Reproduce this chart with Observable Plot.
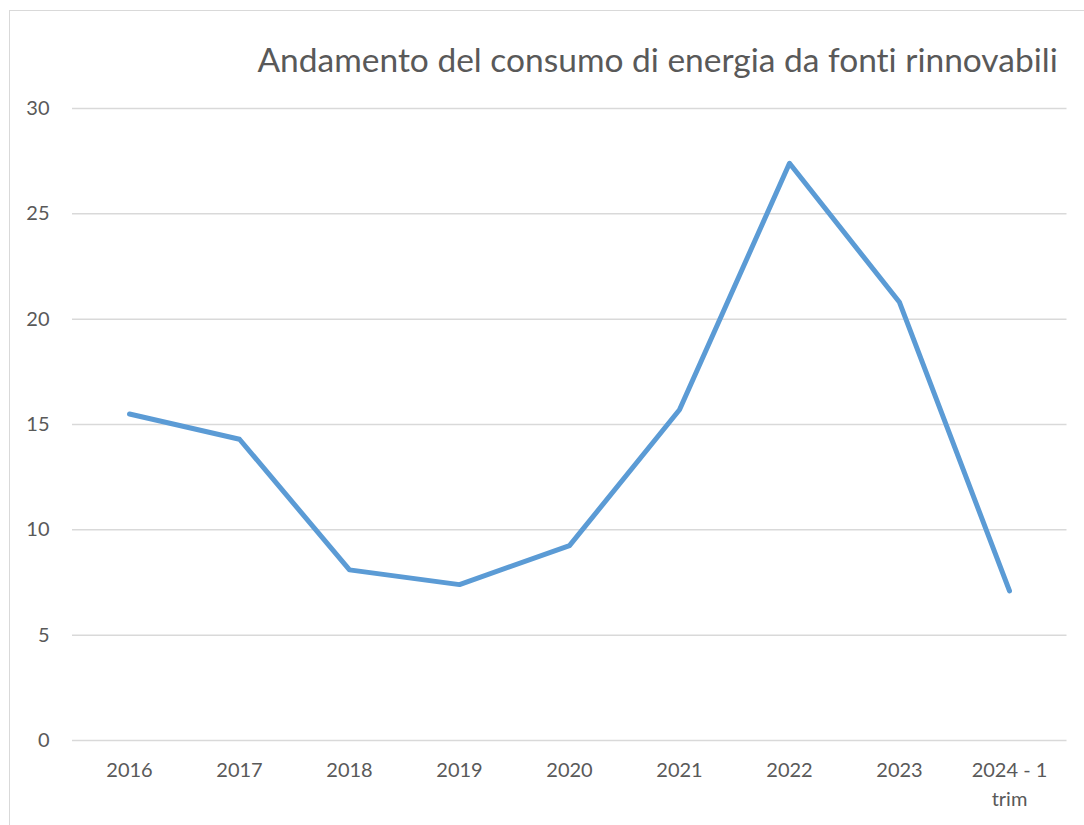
<!DOCTYPE html>
<html>
<head>
<meta charset="utf-8">
<script src="https://cdn.jsdelivr.net/npm/d3@7"></script>
<script src="https://cdn.jsdelivr.net/npm/@observablehq/plot@0.6"></script>
<style>
  html, body { margin: 0; padding: 0; background: #fff; overflow: hidden; }
  #wrap { position: relative; width: 1084px; height: 825px; overflow: hidden; }
  #border { position: absolute; left: 9px; top: 10px; width: 1200px; height: 900px;
            border-left: 1.5px solid #d9d9d9; border-top: 1.5px solid #d9d9d9; }
  #chart { position: absolute; left: 0; top: 0; }
  #chart svg text { font-variant-ligatures: none; font-feature-settings: "liga" 0; }
</style>
</head>
<body>
<div id="wrap"><div id="border"></div><div id="chart"></div></div>
<script>
const title = "Andamento del consumo di energia da fonti rinnovabili";
const categories = ["2016", "2017", "2018", "2019", "2020", "2021", "2022", "2023", "2024 - 1\ntrim"];
const values = [15.5, 14.3, 8.1, 7.4, 9.25, 15.7, 27.4, 20.8, 7.1];
const yTicks = [0, 5, 10, 15, 20, 25, 30];

const data = categories.map((c, i) => ({cat: c, value: values[i]}));
const font = "Lato, 'Open Sans', sans-serif";

const plot = Plot.plot({
  width: 1084,
  height: 825,
  marginLeft: 72,
  marginRight: 17.5,
  marginTop: 108,
  marginBottom: 85,
  style: {fontFamily: font, fontSize: "20px", color: "#595959", background: "transparent"},
  x: {type: "point", domain: categories, padding: 0.5, axis: null},
  y: {domain: [0, 30], axis: null},
  marks: [
    Plot.ruleY(yTicks, {stroke: "#d9d9d9", strokeWidth: 1.5}),
    Plot.text(yTicks, {y: d => d, text: d => String(d), frameAnchor: "left", textAnchor: "end", dx: -23, fill: "#595959", fontSize: 20}),
    Plot.text(categories, {x: d => d, text: d => d, frameAnchor: "bottom", lineAnchor: "top", dy: 16, lineHeight: 1.45, fill: "#595959", fontSize: 20}),
    Plot.lineY(data, {x: "cat", y: "value", stroke: "#5b9bd5", strokeWidth: 5, strokeLinejoin: "round", strokeLinecap: "round"}),
    Plot.text([title], {frameAnchor: "top-left", text: d => d, textAnchor: "start", lineAnchor: "bottom", dx: 185, dy: -37, fill: "#595959", fontSize: 33.5})
  ]
});
document.getElementById("chart").appendChild(plot);
</script>
</body>
</html>
